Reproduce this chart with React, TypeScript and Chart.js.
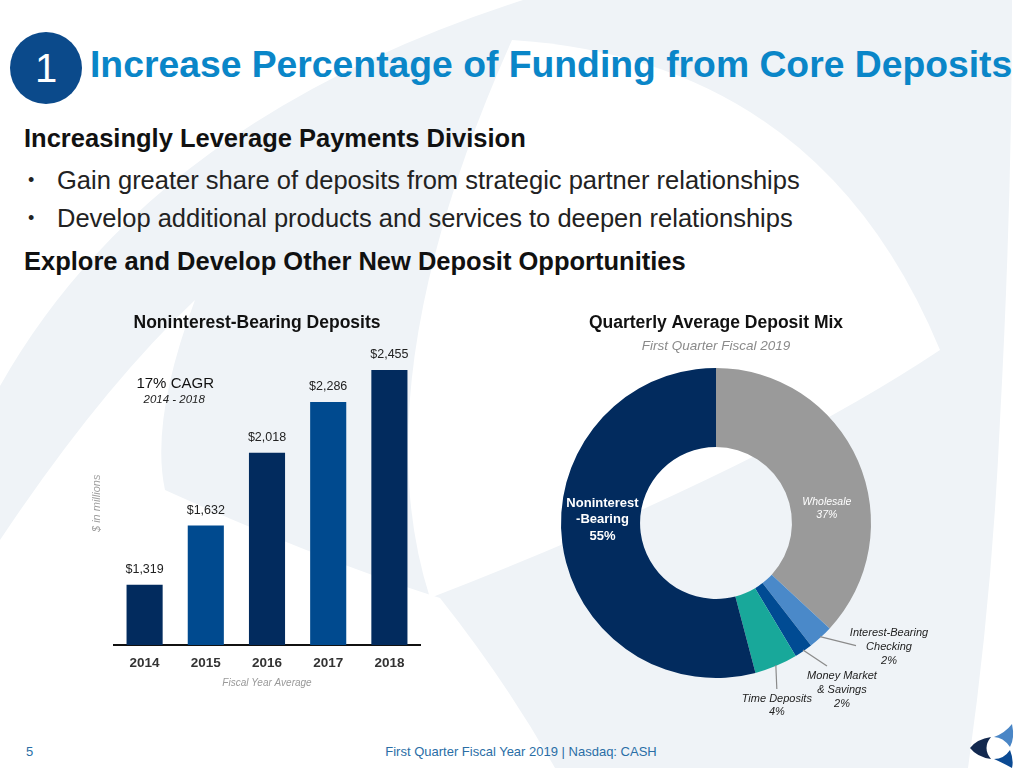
import React, { useEffect, useRef } from "react";
import { Chart, registerables } from "chart.js";

Chart.register(...registerables);

const FF = "'Liberation Sans', Arial, Helvetica, sans-serif";

// ---------- Bar chart data ----------
const years = ["2014", "2015", "2016", "2017", "2018"];
const depositValues = [1319, 1632, 2018, 2286, 2455];
const barColors = ["#022b5e", "#004a8f", "#022b5e", "#004a8f", "#022b5e"];
const yAxisMin = 1000;
const yAxisMax = 2500;
const cagrText = "17% CAGR";
const cagrRange = "2014 - 2018";

// ---------- Doughnut data ----------
const mixLabels = [
  "Wholesale",
  "Interest-Bearing Checking",
  "Money Market & Savings",
  "Time Deposits",
  "Noninterest-Bearing",
];
const mixValues = [36.9, 2.6, 1.9, 4.5, 54.1];
const mixPctLabels = ["37%", "2%", "2%", "4%", "55%"];
const mixLabelLines = [
  ["Wholesale"],
  ["Interest-Bearing", "Checking"],
  ["Money Market", "& Savings"],
  ["Time Deposits"],
  ["Noninterest", "-Bearing"],
];
const mixColors = ["#9a9a9a", "#4a89c9", "#004b93", "#18a89a", "#022b5e"];

// ---------- Plugins ----------
const barLabelPlugin = {
  id: "barLabels",
  afterDatasetsDraw(chart: any) {
    const ctx = chart.ctx;
    const meta = chart.getDatasetMeta(0);
    ctx.save();
    ctx.textAlign = "center";
    ctx.textBaseline = "middle";
    ctx.fillStyle = "#222";
    ctx.font = `12.5px ${FF}`;
    meta.data.forEach((bar: any, i: number) => {
      ctx.fillText("$" + depositValues[i].toLocaleString("en-US"), bar.x, bar.y - 15);
    });
    const xs = chart.scales.x;
    const cx = (xs.getPixelForValue(0) + xs.getPixelForValue(1)) / 2;
    const top = chart.chartArea.top;
    ctx.fillStyle = "#111";
    ctx.font = `15px ${FF}`;
    ctx.fillText(cagrText, cx, top + 22);
    ctx.font = `italic 11.5px ${FF}`;
    ctx.fillStyle = "#222";
    ctx.fillText(cagrRange, cx - 1, top + 38);
    ctx.restore();
  },
};

const insideSpecs = [
  { index: 4, dx: 1, dy: -18, gap: 16.7, color: "#ffffff", font: `bold 13px ${FF}` },
  { index: 0, dx: 5, dy: 31.5, gap: 13.3, color: "#ffffff", font: `italic 10.5px ${FF}` },
];
const calloutSpecs = [
  { index: 1, dx: 36, dy: 9, tx: 33, ty: -13, gap: 14 },
  { index: 2, dx: 24, dy: 16, tx: 15, ty: 10, gap: 14 },
  { index: 3, dx: 1, dy: 24, tx: 0, ty: 10, gap: 13 },
];

const donutLabelPlugin = {
  id: "donutLabels",
  afterDatasetsDraw(chart: any) {
    const ctx = chart.ctx;
    const arcs = chart.getDatasetMeta(0).data;
    ctx.save();
    ctx.textAlign = "center";
    ctx.textBaseline = "middle";
    insideSpecs.forEach((s) => {
      const arc = arcs[s.index];
      const p = arc.getCenterPoint();
      const lines = [...mixLabelLines[s.index], mixPctLabels[s.index]];
      ctx.fillStyle = s.color;
      ctx.font = s.font;
      const ax = p.x + s.dx;
      const ay = p.y + s.dy;
      lines.forEach((t, i) => {
        ctx.fillText(t, ax, ay + (i - (lines.length - 1) / 2) * s.gap);
      });
    });
    calloutSpecs.forEach((s) => {
      const arc = arcs[s.index];
      const { x, y, startAngle, endAngle, outerRadius } = arc.getProps(
        ["x", "y", "startAngle", "endAngle", "outerRadius"],
        true
      );
      const mid = (startAngle + endAngle) / 2;
      const sx = x + Math.cos(mid) * (outerRadius - 1);
      const sy = y + Math.sin(mid) * (outerRadius - 1);
      const ex = sx + s.dx;
      const ey = sy + s.dy;
      ctx.strokeStyle = "#8a8a8a";
      ctx.lineWidth = 1.2;
      ctx.beginPath();
      ctx.moveTo(sx, sy);
      ctx.lineTo(ex, ey);
      ctx.stroke();
      const lines = [...mixLabelLines[s.index], mixPctLabels[s.index]];
      ctx.fillStyle = "#222";
      ctx.font = `italic 11px ${FF}`;
      lines.forEach((t, i) => {
        ctx.fillText(t, ex + s.tx, ey + s.ty + i * s.gap);
      });
    });
    ctx.restore();
  },
};

function BarChart() {
  const ref = useRef<HTMLCanvasElement>(null);
  useEffect(() => {
    const chart = new Chart(ref.current as HTMLCanvasElement, {
      type: "bar",
      data: {
        labels: years,
        datasets: [
          {
            data: depositValues,
            backgroundColor: barColors,
            borderWidth: 0,
            categoryPercentage: 1,
            barPercentage: 0.59,
          },
        ],
      },
      options: {
        animation: false,
        responsive: false,
        maintainAspectRatio: false,
        layout: { padding: { left: 10, right: 10, top: 0, bottom: 0 } },
        plugins: {
          legend: { display: false },
          tooltip: { enabled: false },
          title: {
            display: true,
            text: "Noninterest-Bearing Deposits",
            color: "#111",
            font: { family: FF, size: 17.5, weight: "bold" },
            padding: { top: 12.5, bottom: 28 },
          },
        },
        scales: {
          x: {
            grid: { display: false, drawTicks: false },
            border: { display: true, color: "#111", width: 2 },
            ticks: { color: "#333", font: { family: FF, size: 13.5, weight: "bold" }, padding: 9.6 },
            title: {
              display: true,
              text: "Fiscal Year Average",
              color: "#999",
              font: { family: FF, size: 10, style: "italic" },
              padding: { top: -3.5, bottom: 4 },
            },
          },
          y: {
            min: yAxisMin,
            max: yAxisMax,
            grid: { display: false, drawTicks: false },
            border: { display: false },
            ticks: { display: false },
            title: {
              display: true,
              text: "$ in millions",
              color: "#a0a0a0",
              font: { family: FF, size: 11, style: "italic" },
              padding: { top: -3.6, bottom: 10.4 },
            },
          },
        },
      } as any,
      plugins: [barLabelPlugin],
    });
    return () => chart.destroy();
  }, []);
  return (
    <canvas
      ref={ref}
      width={346}
      height={393}
      style={{ position: "absolute", left: 84, top: 300, width: 346, height: 393 }}
    />
  );
}

function DonutChart() {
  const ref = useRef<HTMLCanvasElement>(null);
  useEffect(() => {
    const chart = new Chart(ref.current as HTMLCanvasElement, {
      type: "doughnut",
      data: {
        labels: mixLabels,
        datasets: [
          {
            data: mixValues,
            backgroundColor: mixColors,
            borderWidth: 0,
          },
        ],
      },
      options: {
        animation: false,
        responsive: false,
        maintainAspectRatio: false,
        cutout: "49%",
        layout: { padding: { left: 21, right: 69, top: 0, bottom: 52 } },
        plugins: {
          legend: { display: false },
          tooltip: { enabled: false },
          title: {
            display: true,
            text: "Quarterly Average Deposit Mix",
            color: "#111",
            font: { family: FF, size: 17.5, weight: "bold" },
            padding: { top: 3, bottom: 2 },
          },
          subtitle: {
            display: true,
            text: "First Quarter Fiscal 2019",
            color: "#8a8a8a",
            font: { family: FF, size: 13.5, style: "italic" },
            padding: { top: 2, bottom: 13.8 },
          },
        },
      } as any,
      plugins: [donutLabelPlugin],
    });
    return () => chart.destroy();
  }, []);
  return (
    <canvas
      ref={ref}
      width={400}
      height={420}
      style={{ position: "absolute", left: 540, top: 310, width: 400, height: 420 }}
    />
  );
}

const abs = (left: number, top: number, extra: React.CSSProperties = {}): React.CSSProperties => ({
  position: "absolute",
  left,
  top,
  whiteSpace: "nowrap",
  fontFamily: FF,
  ...extra,
});

export default function App() {
  return (
    <div
      style={{
        position: "fixed",
        left: 0,
        top: 0,
        width: 1024,
        height: 768,
        overflow: "hidden",
        background: "#ffffff",
        fontFamily: FF,
      }}
    >
      <svg width={1024} height={768} style={{ position: "absolute", left: 0, top: 0 }}>
        <rect x={0} y={0} width={1024} height={768} fill="#eff3f7" />
        <path d="M0,0 L523,0 Q150,120 0,386 Z" fill="#ffffff" />
        <path d="M512,40 Q820,60 940,350 Q760,470 430,598 Q360,380 512,40 Z" fill="#ffffff" />
        <path
          d="M0,540 Q100,390 195,300 Q150,420 165,490 Q320,560 440,598 Q505,680 555,768 L0,768 Z"
          fill="#ffffff"
        />
        <path d="M1012,0 L1024,0 L1024,768 L968,768 Q992,600 1000,420 Q1012,200 1012,0 Z" fill="#ffffff" />
        {/* logo */}
        <path d="M991,737 Q977,739 970,748 Q977,757 991,759 Q982,748 991,737 Z" fill="#13294f" />
        <path d="M994,737 Q1005,733 1012,724 Q1015,738 1010,747 Q1003,737 994,737 Z" fill="#4a86c6" />
        <path d="M994,759 Q1004,759 1010,750 Q1014,760 1012,768 Q1003,763 994,759 Z" fill="#0b4a93" />
      </svg>

      <div
        style={{
          position: "absolute",
          left: 10,
          top: 32,
          width: 72,
          height: 72,
          borderRadius: "50%",
          background: "#0b4a8b",
          color: "#fff",
          fontSize: 40,
          lineHeight: "72px",
          textAlign: "center",
          fontFamily: FF,
        }}
      >
        1
      </div>
      <div style={abs(90, 41.5, { fontSize: 37.3, lineHeight: "44px", fontWeight: "bold", color: "#0a86c8" })}>
        Increase Percentage of Funding from Core Deposits
      </div>

      <div style={abs(24, 123, { fontSize: 25.5, lineHeight: "30px", fontWeight: "bold", color: "#111" })}>
        Increasingly Leverage Payments Division
      </div>
      <div style={abs(28, 165, { fontSize: 18, lineHeight: "30px", color: "#222" })}>•</div>
      <div style={abs(57, 165, { fontSize: 25.5, lineHeight: "30px", color: "#222" })}>
        Gain greater share of deposits from strategic partner relationships
      </div>
      <div style={abs(28, 203, { fontSize: 18, lineHeight: "30px", color: "#222" })}>•</div>
      <div style={abs(57, 203, { fontSize: 25.5, lineHeight: "30px", color: "#222" })}>
        Develop additional products and services to deepen relationships
      </div>
      <div style={abs(24, 246, { fontSize: 25.5, lineHeight: "30px", fontWeight: "bold", color: "#111" })}>
        Explore and Develop Other New Deposit Opportunities
      </div>

      <BarChart />
      <DonutChart />

      <div style={abs(26, 744, { fontSize: 13, lineHeight: "16px", color: "#2a6ea6" })}>5</div>
      <div
        style={abs(521, 744, {
          fontSize: 13,
          lineHeight: "16px",
          color: "#2a6ea6",
          transform: "translateX(-50%)",
        })}
      >
        First Quarter Fiscal Year 2019 | Nasdaq: CASH
      </div>
    </div>
  );
}
